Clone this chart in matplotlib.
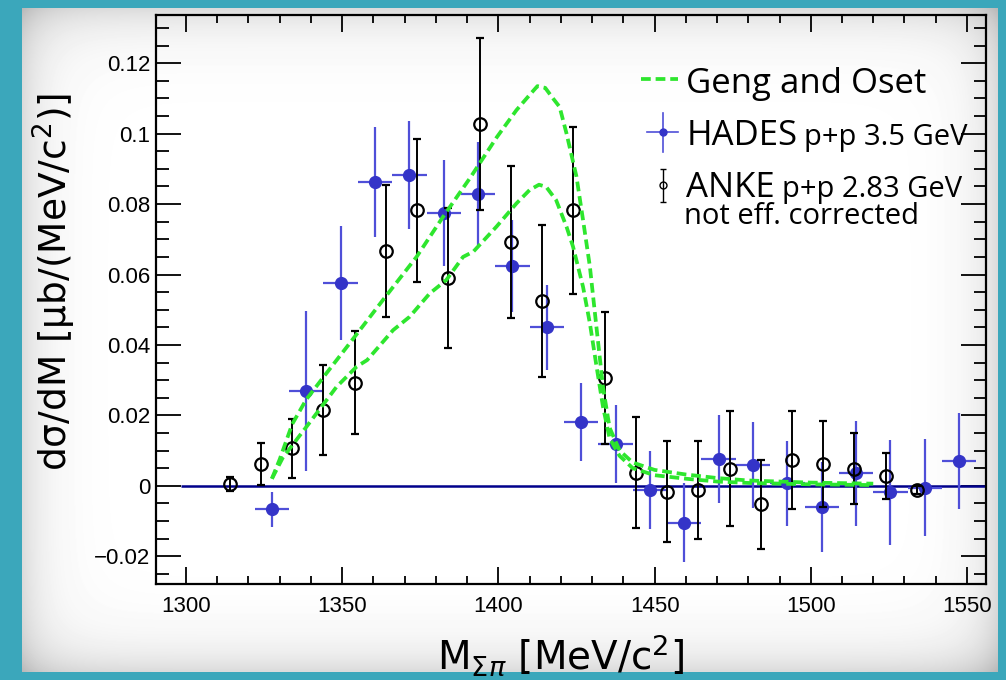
import numpy as np
import matplotlib
matplotlib.use("Agg")
import matplotlib.pyplot as plt
from matplotlib.ticker import MultipleLocator

plt.rcParams['mathtext.fontset'] = 'dejavusans'

# ---- data ----
hades_x = [1327.5, 1338.5, 1349.5, 1360.5, 1371.5, 1382.5, 1393.5, 1404.5, 1415.5, 1426.5, 1437.5,
           1448.5, 1459.5, 1470.5, 1481.5, 1492.5, 1503.5, 1514.5, 1525.5, 1536.5, 1547.5]
hades_y = [-0.0067, 0.0269, 0.0576, 0.0863, 0.0882, 0.0774, 0.0829, 0.0624, 0.0450, 0.0181, 0.0118,
           -0.0012, -0.0105, 0.0075, 0.0059, 0.0007, -0.0060, 0.0035, -0.0019, -0.0005, 0.0071]
hades_err = [0.0050, 0.0226, 0.0163, 0.0157, 0.0153, 0.0150, 0.0146, 0.0131, 0.0120, 0.0110, 0.0110,
             0.0110, 0.0112, 0.0125, 0.0123, 0.0121, 0.0127, 0.0150, 0.0150, 0.0137, 0.0136]
hades_xerr = 5.5

anke_x = [1314, 1324, 1334, 1344, 1354, 1364, 1374, 1384, 1394, 1404, 1414, 1424,
          1434, 1444, 1454, 1464, 1474, 1484, 1494, 1504, 1514, 1524, 1534]
anke_y = [0.0004, 0.0062, 0.0106, 0.0215, 0.0293, 0.0666, 0.0783, 0.0589, 0.1028, 0.0693, 0.0525, 0.0782,
          0.0307, 0.0037, -0.0017, -0.0012, 0.0049, -0.0053, 0.0073, 0.0061, 0.0049, 0.0028, -0.0012]
anke_err = [0.0020, 0.0060, 0.0085, 0.0127, 0.0147, 0.0187, 0.0203, 0.0199, 0.0245, 0.0216, 0.0216, 0.0236,
            0.0187, 0.0158, 0.0144, 0.0139, 0.0162, 0.0127, 0.0138, 0.0122, 0.0102, 0.0065, 0.0010]

geng_hi_x = [1327.5, 1330, 1334, 1338.5, 1345, 1352, 1363, 1373.8, 1382.3, 1391, 1399.5, 1405.8, 1410,
             1412.5, 1415, 1417.5, 1419.6, 1421.8, 1425, 1427.1, 1429.3, 1431.4, 1433.5, 1435.6, 1438.8,
             1443, 1450, 1460, 1470, 1480, 1500, 1520]
geng_hi_y = [0.0020, 0.0075, 0.0175, 0.0245, 0.0320, 0.0400, 0.0527, 0.0650, 0.0764, 0.0875, 0.0990, 0.1067, 0.1110,
             0.1135, 0.1130, 0.1100, 0.1076, 0.1001, 0.0878, 0.0755, 0.0622, 0.0450, 0.0280, 0.0165, 0.0100,
             0.0066, 0.0045, 0.0032, 0.0022, 0.0015, 0.0009, 0.0006]
geng_lo_x = [1327.5, 1331, 1338.6, 1348.2, 1354.6, 1358, 1366.3, 1371.6, 1378, 1383.3, 1388.7, 1392, 1399.4,
             1405.8, 1410, 1413, 1415.3, 1418.5, 1421.8, 1423.9, 1427.1, 1429.3, 1431.4, 1433.5, 1435.6,
             1438.8, 1443, 1450, 1460, 1470, 1480, 1500, 1520]
geng_lo_y = [0.0020, 0.0080, 0.0168, 0.0281, 0.0338, 0.0357, 0.0442, 0.0480, 0.0546, 0.0584, 0.0650, 0.0665, 0.0736,
             0.0802, 0.0840, 0.0855, 0.0849, 0.0811, 0.0736, 0.0679, 0.0565, 0.0461, 0.0340, 0.0224, 0.0135,
             0.0085, 0.0050, 0.0030, 0.0020, 0.0012, 0.0008, 0.0004, 0.0002]

zero_start = 1298.4
xticks = [1300, 1350, 1400, 1450, 1500, 1550]
yticks = [-0.02, 0, 0.02, 0.04, 0.06, 0.08, 0.1, 0.12]
ytick_labels = ['\u22120.02', '0', '0.02', '0.04', '0.06', '0.08', '0.1', '0.12']

W, H = 1006, 680
teal = '#3ba7bb'
green = '#2ee62e'
blue = '#3434c8'
dash = (2.6, 1.3)

fig = plt.figure(figsize=(W / 100, H / 100), dpi=100, facecolor=teal)

# paper background with a slight shade toward the edges
bg = fig.add_axes([22 / W, 8 / H, (998 - 22) / W, (672 - 8) / H])
gx = np.arange(976)
gy = np.arange(664)
dx = np.minimum(gx, gx[::-1])[None, :]
dy = np.minimum(gy, gy[::-1])[:, None]
shade = 1 - 0.14 * np.exp(-dx / 24.0) - 0.14 * np.exp(-dy / 26.0)
bg.imshow(shade, cmap='gray', vmin=0, vmax=1, aspect='auto', interpolation='bilinear')
bg.axis('off')

ax = fig.add_axes([156 / W, (H - 584) / H, (985.7 - 156) / W, (584 - 15) / H])
ax.set_facecolor('none')

ax.hlines(0, zero_start, 1556, color='#00008b', lw=1.8, zorder=2)

ax.errorbar(hades_x, hades_y, yerr=hades_err, xerr=hades_xerr, fmt='o', color=blue,
            ecolor='#4f4fd8', elinewidth=1.6, ms=8.5, capsize=0, zorder=3)
ax.errorbar(anke_x, anke_y, yerr=anke_err, fmt='o', mfc='none', mec='black', mew=1.6, ms=9,
            ecolor='black', elinewidth=1.4, capsize=3, capthick=1.4, zorder=4)
ax.plot(geng_hi_x, geng_hi_y, color=green, lw=2.7, dashes=dash, zorder=5)
ax.plot(geng_lo_x, geng_lo_y, color=green, lw=2.7, dashes=dash, zorder=5)

ax.set_xlim(1290.4, 1556)
ax.set_ylim(-0.0279, 0.1337)
ax.set_xticks(xticks)
ax.set_yticks(yticks)
ax.set_yticklabels(ytick_labels)
ax.xaxis.set_minor_locator(MultipleLocator(10))
ax.yaxis.set_minor_locator(MultipleLocator(0.005))
ax.tick_params(axis='both', which='both', direction='in', top=True, right=True, width=1.3)
ax.tick_params(axis='x', which='major', length=12, pad=9)
ax.tick_params(axis='x', which='minor', length=6)
ax.tick_params(axis='y', which='major', length=18, pad=4)
ax.tick_params(axis='y', which='minor', length=9)
for lab in ax.get_xticklabels() + ax.get_yticklabels():
    lab.set_family('Liberation Sans')
    lab.set_fontsize(16)
for s in ax.spines.values():
    s.set_linewidth(1.6)

ax.set_xlabel(r'M$_{\Sigma\pi}$ [MeV/c$^{2}$]', fontsize=28, family='DejaVu Sans')
ax.set_ylabel('d\u03c3/dM [\u03bcb/(MeV/c$^{2}$)]', fontsize=27, family='DejaVu Sans')
ax.xaxis.set_label_coords(0.488, -0.085)
ax.yaxis.set_label_coords(-0.094, 0.531)

# legend drawn by hand (mixed font sizes)
tr = ax.transAxes
leg_font = 'Open Sans'
ax.plot([0.5846, 0.629], [0.8875, 0.8875], color=green, lw=2.7, dashes=dash, transform=tr, clip_on=False)
ax.text(0.639, 0.863, 'Geng and Oset', transform=tr, fontsize=25, family=leg_font, va='baseline')

ax.plot([0.6107, 0.6107], [0.7595, 0.8281], color='#4f4fd8', lw=1.2, transform=tr)
ax.plot([0.5918, 0.629], [0.7938, 0.7938], color='#4f4fd8', lw=1.2, transform=tr)
ax.plot([0.6107], [0.7938], 'o', color=blue, ms=5, transform=tr)
ax.text(0.639, 0.7715, 'HADES', transform=tr, fontsize=25, family=leg_font, va='baseline')
ax.text(0.781, 0.7715, 'p+p 3.5 GeV', transform=tr, fontsize=21, family=leg_font, va='baseline')

ax.errorbar([0.6107], [0.7012], yerr=[0.029], fmt='o', mfc='none', mec='black', mew=1.0, ms=5,
            ecolor='black', elinewidth=1.0, capsize=2, capthick=1.0, transform=tr)
ax.text(0.639, 0.680, 'ANKE', transform=tr, fontsize=25, family=leg_font, va='baseline')
ax.text(0.755, 0.680, 'p+p 2.83 GeV', transform=tr, fontsize=21, family=leg_font, va='baseline')
ax.text(0.636, 0.6327, 'not eff. corrected', transform=tr, fontsize=21, family=leg_font, va='baseline')

fig.savefig('out.png', dpi=100, facecolor=teal)
